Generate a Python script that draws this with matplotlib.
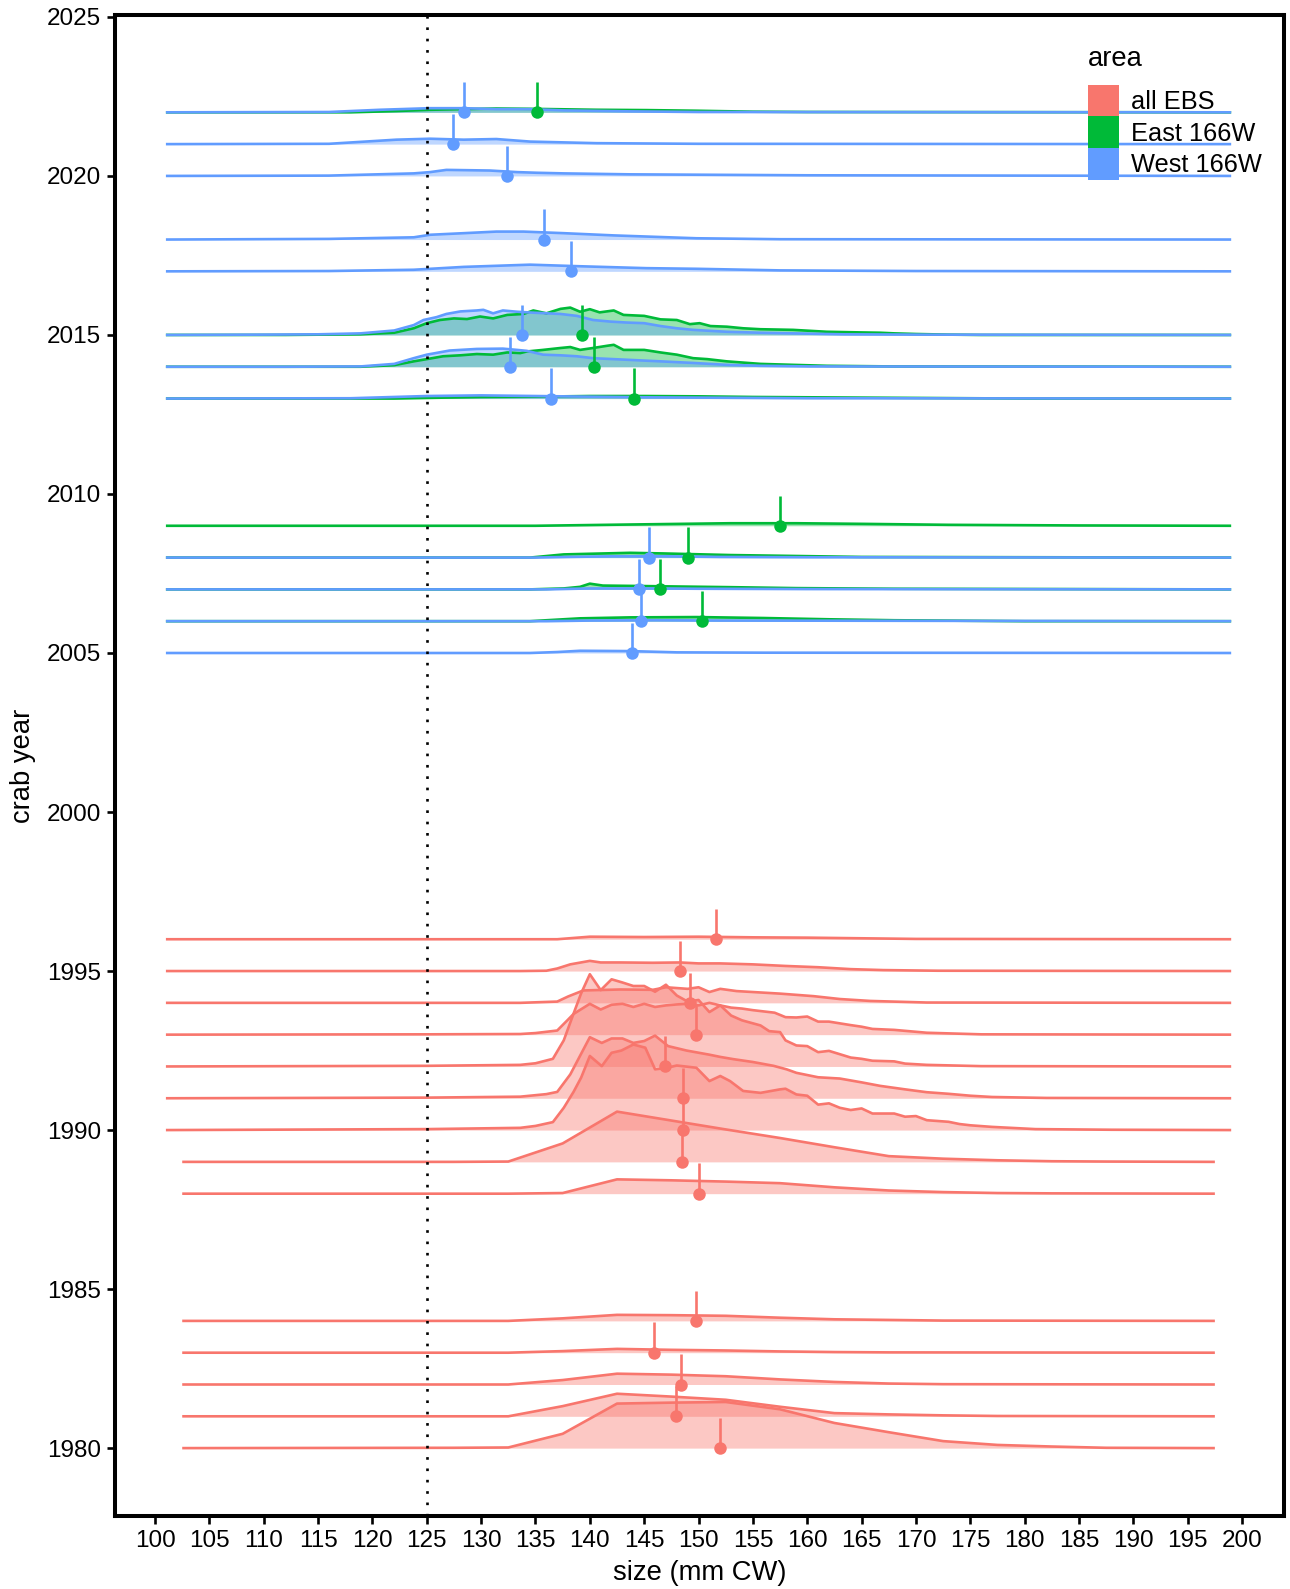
import matplotlib
matplotlib.use("Agg")
import matplotlib.pyplot as plt
from matplotlib.patches import Patch

# colours of the three areas (ggplot default hues)
col_all = "#F8766D"
col_east = "#00BA38"
col_west = "#619CFF"

# ridge outlines: (size mm, height in year units)
west_166w = {
    2022: [(101, 0), (116, 0.01), (120.7, 0.08), (125.3, 0.13), (128.4, 0.13), (131.4, 0.1), (134.5, 0.1),
           (137.6, 0.06), (143.7, 0.03), (150, 0.01), (199, 0)],
    2021: [(101, 0), (116, 0.01), (122.2, 0.14), (125.3, 0.17), (128.4, 0.14), (131.4, 0.16), (134.5, 0.08),
           (140.6, 0.03), (150, 0.01), (199, 0)],
    2020: [(101, 0), (116, 0.01), (123.8, 0.08), (125.3, 0.12), (126.8, 0.19), (130.8, 0.17), (133.3, 0.12),
           (135.1, 0.1), (137.6, 0.08), (143.7, 0.05), (160, 0.02), (199, 0)],
    2018: [(101, 0), (116, 0.02), (123.8, 0.07), (125.3, 0.15), (128.4, 0.2), (131.4, 0.25), (133.9, 0.25),
           (137.6, 0.2), (142.2, 0.13), (149.8, 0.04), (157.5, 0.01), (199, 0)],
    2017: [(101, 0), (116, 0.01), (123.8, 0.05), (128.4, 0.14), (134.5, 0.21), (139.1, 0.16), (145.2, 0.1),
           (149.8, 0.08), (157.5, 0.03), (170, 0.01), (199, 0)],
    2015: [(101, 0), (110, 0.01), (115, 0.02), (118.9, 0.05), (122, 0.14), (123.8, 0.31), (124.7, 0.47),
           (125.9, 0.56), (126.8, 0.66), (128.1, 0.74), (129.6, 0.77), (130.2, 0.79), (131.1, 0.68), (132, 0.77),
           (133.3, 0.73), (134.8, 0.7), (137.3, 0.66), (138.8, 0.6), (140.3, 0.47), (141.9, 0.42), (143.4, 0.39),
           (145, 0.37), (146.5, 0.28), (148, 0.21), (149.5, 0.16), (152.6, 0.1), (155.7, 0.07), (158.7, 0.05),
           (163.3, 0.02), (170, 0.01), (199, 0)],
    2014: [(101, 0), (112, 0.0), (118.9, 0.01), (122, 0.09), (123.8, 0.27), (125, 0.38), (127.1, 0.51),
           (129.6, 0.56), (132, 0.57), (133.3, 0.53), (134.2, 0.5), (135.7, 0.38), (137.3, 0.36), (138.8, 0.33),
           (140.3, 0.27), (143.4, 0.22), (146.5, 0.17), (149.5, 0.12), (152.6, 0.06), (155.7, 0.03),
           (160.3, 0.01), (199, 0)],
    2013: [(101, 0), (118, 0.01), (122, 0.05), (125, 0.08), (130, 0.1), (135, 0.08), (140, 0.06), (145, 0.04),
           (150, 0.03), (160, 0.01), (199, 0)],
    2008: [(101, 0), (135, 0), (138, 0.02), (142, 0.04), (147, 0.04), (152, 0.02), (160, 0.01), (199, 0)],
    2007: [(101, 0), (136, 0), (140, 0.03), (145, 0.03), (150, 0.02), (160, 0.01), (199, 0)],
    2006: [(101, 0), (136, 0), (140, 0.02), (146, 0.03), (152, 0.02), (199, 0)],
    2005: [(101, 0), (134.5, 0), (137, 0.03), (139.1, 0.07), (143.7, 0.06), (148, 0.02), (156, 0.01), (199, 0)],
}

east_166w = {
    2022: [(101, 0), (118, 0), (122.2, 0.04), (125.3, 0.08), (131.4, 0.12), (134.5, 0.11), (140.6, 0.08),
           (145.2, 0.07), (149.8, 0.05), (155, 0.02), (160, 0.01), (199, 0)],
    2015: [(101, 0), (112, 0.0), (118.9, 0.02), (122, 0.07), (123.8, 0.21), (125, 0.37), (126.2, 0.47),
           (127.5, 0.52), (128.7, 0.5), (129.9, 0.58), (131.1, 0.52), (132.4, 0.63), (133.9, 0.66), (134.8, 0.77),
           (136, 0.68), (137.3, 0.82), (138.2, 0.86), (139.1, 0.73), (140, 0.81), (140.9, 0.71), (142.2, 0.77),
           (143.1, 0.63), (145, 0.6), (146.5, 0.49), (148, 0.47), (149.2, 0.34), (150.1, 0.37), (151.1, 0.28),
           (152.6, 0.26), (154.1, 0.21), (155.7, 0.18), (158.7, 0.16), (161.8, 0.1), (164.9, 0.08),
           (166.7, 0.07), (168, 0.05), (170, 0.03), (173, 0.01), (176, 0), (199, 0)],
    2014: [(101, 0), (118.9, 0), (122, 0.05), (123.8, 0.17), (125, 0.24), (126.5, 0.33), (128.1, 0.36),
           (129.6, 0.4), (131.1, 0.38), (132.4, 0.45), (133.6, 0.43), (134.2, 0.48), (135.7, 0.53), (137.3, 0.59),
           (138.2, 0.62), (139.1, 0.53), (140.3, 0.59), (141.6, 0.66), (142.2, 0.69), (143.1, 0.53), (145, 0.53),
           (146.5, 0.45), (148, 0.38), (149.5, 0.27), (150.8, 0.24), (152.6, 0.17), (155.7, 0.09), (158.7, 0.06),
           (161.8, 0.03), (164.9, 0.02), (168, 0.01), (199, 0)],
    2013: [(101, 0), (122, 0), (125, 0.02), (130, 0.05), (135, 0.06), (140, 0.08), (145, 0.08), (150, 0.07),
           (155, 0.05), (160, 0.04), (170, 0.02), (180, 0), (199, 0)],
    2009: [(101, 0), (135, 0), (143.7, 0.04), (152.9, 0.08), (159, 0.08), (165.2, 0.06), (173, 0.03),
           (185, 0.01), (199, 0)],
    2008: [(101, 0), (134.5, 0), (137.6, 0.1), (143.7, 0.15), (146.8, 0.13), (152.9, 0.08), (159, 0.05),
           (165, 0.02), (199, 0)],
    2007: [(101, 0), (134.5, 0), (137.6, 0.03), (139.1, 0.08), (140, 0.18), (141.2, 0.12), (143.7, 0.11),
           (148.3, 0.09), (152.9, 0.07), (159, 0.04), (168, 0.02), (199, 0)],
    2006: [(101, 0), (134.5, 0), (139.1, 0.09), (143.7, 0.12), (149.8, 0.13), (156, 0.1), (162, 0.06),
           (168, 0.03), (180, 0), (199, 0)],
}

all_ebs = {
    1996: [(101, 0), (137, 0), (140, 0.08), (145, 0.07), (150, 0.08), (155, 0.06), (160, 0.05), (165, 0.03),
           (170, 0.01), (199, 0)],
    1995: [(101, 0), (133.6, 0), (136, 0.01), (137, 0.08), (138.2, 0.21), (140, 0.32), (141, 0.27),
           (142.8, 0.27), (145.8, 0.26), (148.3, 0.27), (150, 0.24), (152, 0.24), (155, 0.21), (158, 0.16),
           (161, 0.12), (164, 0.06), (167, 0.03), (172, 0.01), (199, 0)],
    1994: [(101, 0), (133.6, 0), (137, 0.04), (138, 0.2), (139.4, 0.39), (142.8, 0.42), (145.8, 0.41),
           (147, 0.49), (149, 0.44), (150, 0.49), (151, 0.34), (152, 0.44), (153.5, 0.37), (155, 0.34),
           (157.5, 0.29), (160.6, 0.21), (163, 0.12), (165.8, 0.06), (171, 0.01), (199, 0)],
    1993: [(101, 0), (125, 0.01), (133.6, 0.02), (135, 0.05), (137, 0.13), (137.9, 0.44), (138.5, 0.65),
           (140, 0.97), (141, 0.79), (142, 0.94), (143, 0.97), (144, 0.87), (145, 0.97), (146, 0.87), (147, 0.92),
           (148, 0.95), (149, 0.97), (150, 0.92), (151, 1.0), (152, 0.92), (153, 0.85), (154, 0.82), (155, 0.77),
           (156, 0.73), (157, 0.69), (158, 0.55), (159, 0.54), (160, 0.57), (161, 0.41), (162, 0.41),
           (164, 0.3), (165, 0.25), (166, 0.18), (168, 0.15), (169, 0.12), (171, 0.06), (176, 0.01), (199, 0)],
    1992: [(101, 0), (125, 0.02), (133.6, 0.05), (135, 0.1), (136.6, 0.24), (137.6, 0.82), (138.5, 1.66),
           (139.2, 2.3), (140, 2.9), (141, 2.4), (142, 2.74), (143, 2.64), (144, 2.53), (145, 2.53), (146, 2.35),
           (147, 2.57), (148, 2.23), (149, 2.04), (150, 2.09), (151, 1.71), (152, 1.92), (153, 1.6), (154, 1.45),
           (155.7, 1.29), (156.5, 1.11), (157.5, 1.08), (158, 0.82), (159, 0.66), (160, 0.64), (161, 0.45),
           (162, 0.49), (164, 0.28), (165, 0.24), (166, 0.18), (168, 0.16), (169, 0.09), (171, 0.05),
           (176, 0.01), (199, 0)],
    1991: [(101, 0), (125, 0.02), (133.6, 0.05), (136, 0.13), (137, 0.2), (138.2, 0.75), (140, 1.92),
           (141.1, 1.74), (142, 1.88), (143, 1.88), (144, 1.74), (145, 1.8), (146, 1.97), (147.2, 1.64),
           (148.9, 1.5), (151, 1.37), (152, 1.3), (153.2, 1.23), (155, 1.14), (156.9, 1.02), (158.1, 0.91),
           (159, 0.8), (161, 0.66), (163, 0.62), (165, 0.5), (166.7, 0.39), (169, 0.28), (171, 0.19),
           (173, 0.14), (175, 0.08), (177, 0.04), (182, 0.01), (199, 0)],
    1990: [(101, 0), (125, 0.03), (133.6, 0.07), (135, 0.13), (136.6, 0.25), (137.6, 0.7), (138.5, 1.2),
           (139.2, 1.65), (140, 2.33), (141.1, 2.01), (142, 2.43), (142.9, 2.5), (144, 2.69), (145.1, 2.59),
           (146, 1.91), (147, 1.95), (148, 2.03), (149.8, 1.96), (151, 1.54), (152, 1.7), (152.9, 1.54),
           (154.1, 1.23), (155.7, 1.17), (157.5, 1.28), (158, 1.3), (159, 1.12), (160, 1.08), (161, 0.8),
           (162, 0.84), (163, 0.7), (164, 0.63), (165, 0.68), (166, 0.52), (168, 0.52), (169, 0.42), (170, 0.44),
           (171, 0.31), (173, 0.26), (174, 0.19), (175, 0.15), (177, 0.1), (181, 0.03), (188, 0.01), (199, 0)],
    1989: [(102.5, 0), (127.5, 0), (132.5, 0.01), (137.5, 0.58), (142.5, 1.58), (147.5, 1.3), (152.5, 1.02),
           (157.5, 0.75), (162.5, 0.46), (167.5, 0.18), (172.5, 0.1), (177.5, 0.05), (182.5, 0.02),
           (187.5, 0.01), (197.5, 0)],
    1988: [(102.5, 0), (132.5, 0), (137.5, 0.02), (142.5, 0.45), (147.5, 0.42), (152.5, 0.38), (157.5, 0.33),
           (162.5, 0.2), (167.5, 0.1), (172.5, 0.05), (177.5, 0.02), (182.5, 0.01), (197.5, 0)],
    1984: [(102.5, 0), (132.5, 0), (137.5, 0.08), (142.5, 0.19), (147.5, 0.18), (152.5, 0.16), (157.5, 0.1),
           (162.5, 0.05), (167.5, 0.03), (172.5, 0.01), (197.5, 0)],
    1983: [(102.5, 0), (132.5, 0), (137.5, 0.05), (142.5, 0.12), (147.5, 0.09), (152.5, 0.07), (157.5, 0.04),
           (162.5, 0.02), (167.5, 0.01), (197.5, 0)],
    1982: [(102.5, 0), (132.5, 0), (137.5, 0.14), (142.5, 0.34), (147.5, 0.31), (152.5, 0.26), (157.5, 0.16),
           (162.5, 0.08), (167.5, 0.03), (172.5, 0.01), (197.5, 0)],
    1981: [(102.5, 0), (132.5, 0), (137.5, 0.32), (142.5, 0.71), (147.5, 0.62), (152.5, 0.52), (157.5, 0.3),
           (162.5, 0.1), (167.5, 0.06), (172.5, 0.03), (177.5, 0.01), (197.5, 0)],
    1980: [(102.5, 0), (127.5, 0.01), (132.5, 0.02), (137.5, 0.45), (142.5, 1.4), (147.5, 1.43), (152.5, 1.45),
           (157.5, 1.22), (162.5, 0.79), (167.5, 0.5), (172.5, 0.22), (177.5, 0.1), (182.5, 0.05), (187.5, 0.01),
           (197.5, 0)],
}

# mean size per year (marker position)
mean_west = {2022: 128.4, 2021: 127.4, 2020: 132.4, 2018: 135.8, 2017: 138.3, 2015: 133.8, 2014: 132.7,
             2013: 136.4, 2008: 145.4, 2007: 144.5, 2006: 144.7, 2005: 143.9}
mean_east = {2022: 135.1, 2015: 139.3, 2014: 140.4, 2013: 144.1, 2009: 157.5, 2008: 149.0, 2007: 146.5,
             2006: 150.3}
mean_all = {1996: 151.65, 1995: 148.3, 1994: 149.2, 1993: 149.8, 1992: 146.9, 1991: 148.6, 1990: 148.6,
            1989: 148.5, 1988: 150.0, 1984: 149.8, 1983: 145.9, 1982: 148.4, 1981: 147.95, 1980: 151.96}

legend_labels = ["all EBS", "East 166W", "West 166W"]

plt.rcParams["font.family"] = ["Liberation Sans", "DejaVu Sans"]

fig = plt.figure(figsize=(12.9, 15.89), dpi=100)
ax = fig.add_axes([0.08876, 0.04563, 0.90659, 0.94493])

series = [(east_166w, mean_east, col_east), (west_166w, mean_west, col_west), (all_ebs, mean_all, col_all)]
all_years = sorted(set(west_166w) | set(east_166w) | set(all_ebs), reverse=True)

# ridges, top row first so lower rows sit on top
for yr in all_years:
    for ridges, means, c in series:
        if yr not in ridges:
            continue
        xs = [p[0] for p in ridges[yr]]
        ys = [yr + p[1] for p in ridges[yr]]
        ax.fill_between(xs, yr, ys, color=c, alpha=0.4, lw=0)
        ax.plot(xs, ys, color=c, lw=1.9, solid_capstyle="butt")

# mean markers with a little stick
for ridges, means, c in series:
    for yr, m in means.items():
        ax.plot([m, m], [yr, yr + 0.95], color=c, lw=1.9, solid_capstyle="butt")
        ax.plot(m, yr, "o", color=c, ms=9, mew=0)

ax.axvline(125, color="black", lw=1.9, linestyle=(0, (1.0, 3.3)))

ax.set_xlim(96.27, 203.86)
ax.set_ylim(1977.85, 2025.06)
ax.set_xticks(range(100, 201, 5))
ax.set_yticks(range(1980, 2026, 5))

for sp in ax.spines.values():
    sp.set_linewidth(2.9)
    sp.set_color("black")
ax.tick_params(axis="both", length=5.5, width=1.9, labelsize=17.5, color="black", labelcolor="black", pad=4)

ax.set_xlabel("size (mm CW)", fontsize=19.7, labelpad=6)
ax.set_ylabel("crab year", fontsize=19.7, labelpad=8)

handles = [Patch(facecolor=c, edgecolor="none") for c in (col_all, col_east, col_west)]
leg = ax.legend(handles, legend_labels, title="area", loc="upper left",
                bbox_to_anchor=(1088 / 1290, 1 - 46 / 1589), bbox_transform=fig.transFigure,
                frameon=False, fontsize=18.3, title_fontsize=19.7, handlelength=1.2, handleheight=1.55,
                handletextpad=0.5, labelspacing=0, borderpad=0, borderaxespad=0, alignment="left")
leg._legend_box.sep = 9

fig.savefig("out.png", dpi=100)
